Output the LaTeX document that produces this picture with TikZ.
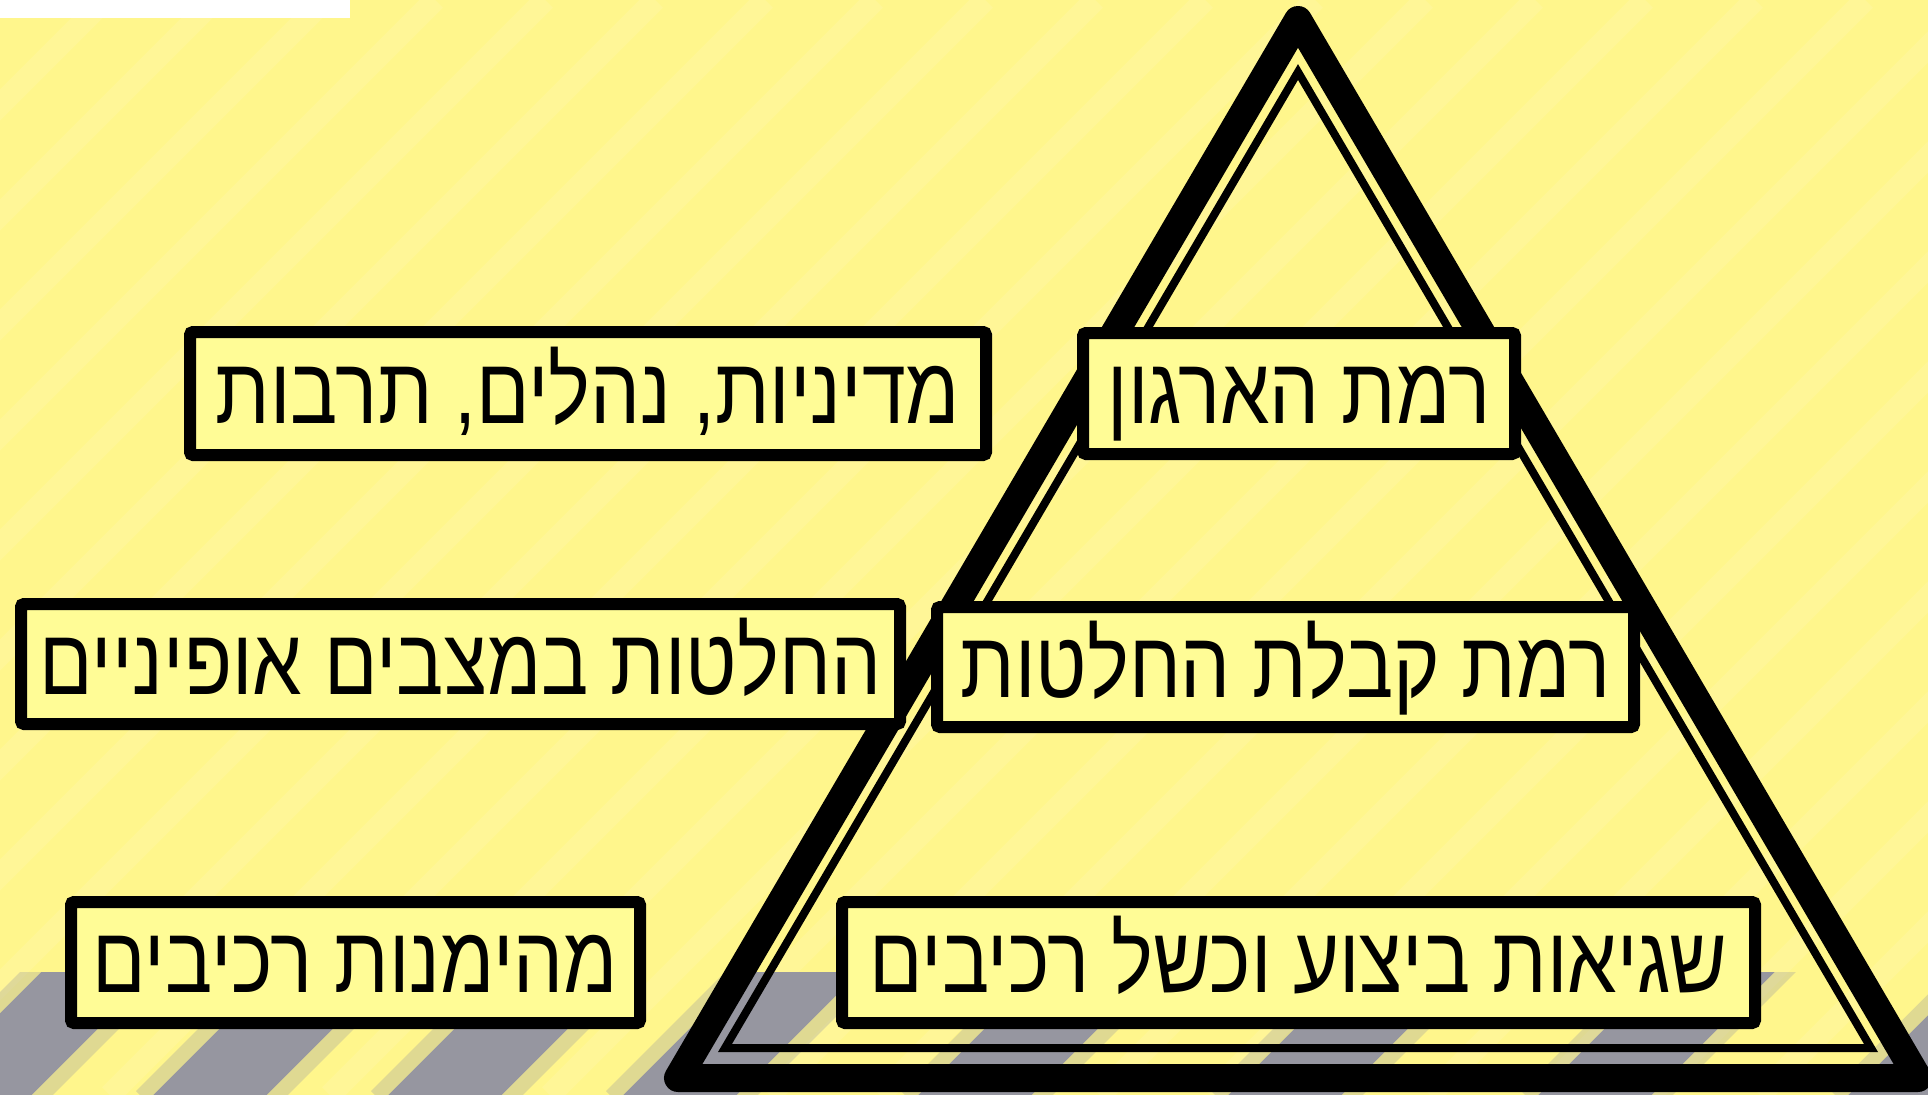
\documentclass[tikz,border=0pt]{standalone}
\usepackage{fontspec}
\TeXXeTstate=1
\newfontfamily\heb[Script=Hebrew,FakeStretch=0.84]{Liberation Sans}
\definecolor{bgyellow}{RGB}{255,246,140}
\definecolor{boxyellow}{RGB}{255,252,150}
\definecolor{stripegray}{RGB}{150,150,160}
\tikzset{
  lvlbox/.style={draw=black, line width=12pt, fill=boxyellow, rounded corners=3pt,
    inner sep=0pt, text height=60pt, text depth=0pt, font=\heb\fontsize{94}{100}\selectfont},
  hazard/.style={draw=stripegray, line width=80pt},
  hazardsoft/.style={draw=stripegray, line width=110pt, opacity=0.3},
}
\begin{document}
\begin{tikzpicture}[x=1pt,y=-1pt]
\useasboundingbox (0,0) rectangle (1928,1095);
% background
\fill[bgyellow] (0,0) rectangle (1928,1095);
\begin{scope}
\clip (0,0) rectangle (1928,1095);
\foreach \i in {-12,...,30} {
  \draw[white, opacity=0.10, line width=22pt] ({\i*110},1095) -- ({\i*110+1095},0);
}
\end{scope}
\begin{scope}
\clip (0,972) rectangle (1928,1095);
\foreach \c in {0, 235, 470, 705, 1000, 1310, 1620, 1930} {
  \draw[hazardsoft] ({\c-60},1130) -- ({\c+140},930);
  \draw[hazard] ({\c-60},1130) -- ({\c+140},930);
}
\end{scope}
\fill[white] (0,0) rectangle (350,18);
% triangle
\coordinate (oa) at (1298,20);
\coordinate (ob) at (678,1078);
\coordinate (oc) at (1918,1078);
\coordinate (ia) at (1298,72);
\coordinate (ib) at (725,1048);
\coordinate (ic) at (1871,1048);
\draw[line width=28pt, line join=round] (oa) -- (ob) -- (oc) -- cycle;
\draw[line width=8pt, line join=miter] (ia) -- (ib) -- (ic) -- cycle;
% boxes
\node[lvlbox, minimum width=432pt, minimum height=121pt] (org) at (1299,393.5) {\beginR רמת הארגון\endR};
\node[lvlbox, minimum width=796pt, minimum height=123pt] (pol) at (588,393.5) {\beginR מדיניות, נהלים, תרבות\endR};
\node[lvlbox, minimum width=879pt, minimum height=120pt] (ops) at (460.5,664) {\beginR החלטות במצבים אופיניים\endR};
\node[lvlbox, minimum width=697pt, minimum height=120pt] (dec) at (1285.5,667) {\beginR רמת קבלת החלטות\endR};
\node[lvlbox, minimum width=569pt, minimum height=121pt] (rel) at (355.5,962.5) {\beginR מהימנות רכיבים\endR};
\node[lvlbox, minimum width=913pt, minimum height=121pt] (err) at (1298.5,962.5) {\beginR שגיאות ביצוע וכשל רכיבים\endR};
\end{tikzpicture}
\end{document}
